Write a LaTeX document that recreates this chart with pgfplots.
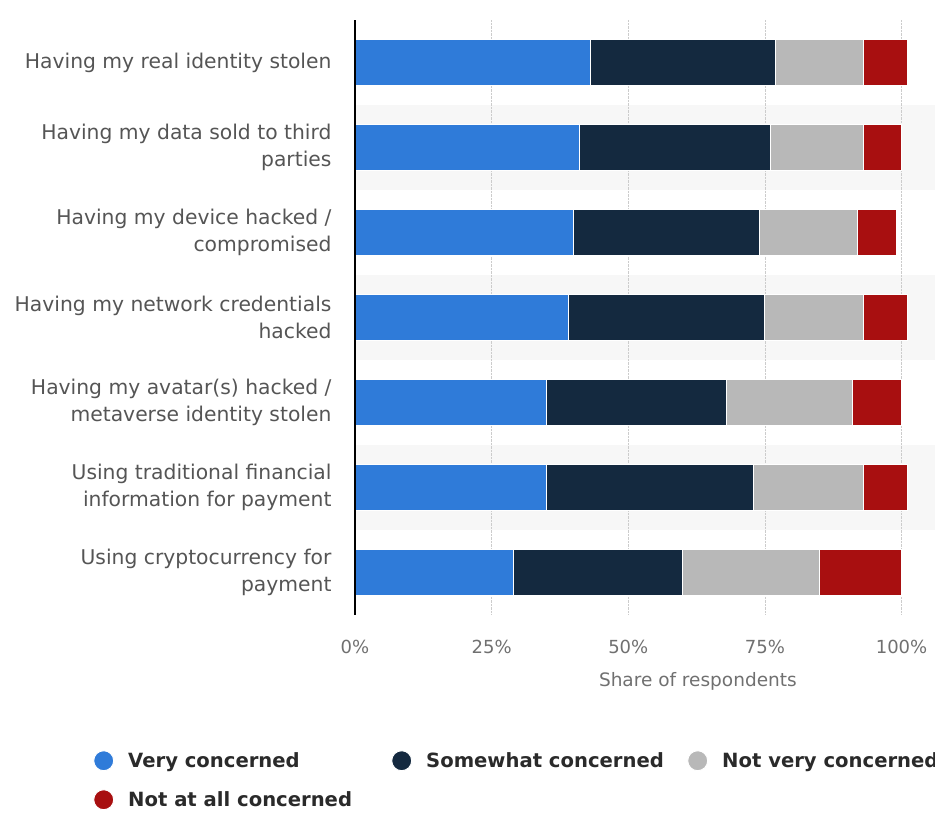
\documentclass[border=0pt]{standalone}
\usepackage{fontspec}
\setmainfont{DejaVu Sans}
\usepackage{pgfplots}
\pgfplotsset{compat=1.18}
\definecolor{cvery}{HTML}{2F7BD9}
\definecolor{csome}{HTML}{14293F}
\definecolor{cnot}{HTML}{B8B8B8}
\definecolor{cnone}{HTML}{A80F10}
\definecolor{lbl}{HTML}{555555}
\definecolor{tck}{HTML}{707070}
\definecolor{band}{HTML}{F7F7F7}
\definecolor{leg}{HTML}{2A2A2A}

\pgfplotstableread{
y very some notvery notall
0 43 34 16 8
1 41 35 17 7
2 40 34 18 7
3 39 36 18 8
4 35 33 23 9
5 35 38 20 8
6 29 31 25 15
}\datatable

\begin{document}
\begin{tikzpicture}
\useasboundingbox (0pt,0pt) rectangle (935pt,812pt);
\fill[band] (356pt,622pt) rectangle (935pt,707pt);
\fill[band] (356pt,452pt) rectangle (935pt,537pt);
\fill[band] (356pt,282pt) rectangle (935pt,367pt);
\begin{axis}[
  at={(355pt,197pt)}, anchor=south west,
  scale only axis, width=557.5pt, height=595pt,
  xbar stacked, bar width=46pt,
  xmin=0, xmax=102, ymin=-0.5, ymax=6.5, y dir=reverse,
  clip=false,
  axis x line=bottom, axis y line=left,
  x axis line style={draw=none},
  y axis line style={draw=none},
  major tick length=0pt,
  xtick={0,25,50,75,100},
  xticklabels={0\%,25\%,50\%,75\%,100\%},
  xticklabel style={font=\fontsize{18}{21}\selectfont, text=tck, anchor=center, yshift=-32pt},
  ytick={0,...,6},
  yticklabels={
    Having my real identity stolen,
    {Having my data sold to third\\parties},
    {Having my device hacked /\\compromised},
    {Having my network credentials\\hacked},
    {Having my avatar(s) hacked /\\metaverse identity stolen},
    {Using traditional financial\\information for payment},
    {Using cryptocurrency for\\payment}},
  yticklabel style={font=\fontsize{20.3}{27}\selectfont, text=lbl, align=right, anchor=east, xshift=-20pt},
  xmajorgrids,
  major grid style={densely dotted, color=gray!40, line width=0.8pt},
  xlabel={Share of respondents},
  xlabel style={font=\fontsize{18.5}{21}\selectfont, text=tck, at={(axis description cs:0.615,0)}, anchor=center, yshift=-66pt},
  legend style={at={(axis description cs:0,0)}, anchor=north west, xshift=-262pt, yshift=-135pt,
    draw=none, fill=none, font=\bfseries\fontsize{19.6}{22}\selectfont, text=leg, legend columns=3,
    row sep=18pt, column sep=0pt, inner sep=0pt},
  legend cell align=left,
  legend image code/.code={\fill[#1] (10pt,0pt) circle (10pt);},
]
\addplot[fill=cvery, draw=white, line width=1pt] table[x=very, y=y] {\datatable};
\addlegendentry{\makebox[273pt][l]{\hspace{12pt}Very concerned}}
\addplot[fill=csome, draw=white, line width=1pt] table[x=some, y=y] {\datatable};
\addlegendentry{\makebox[271pt][l]{\hspace{12pt}Somewhat concerned}}
\addplot[fill=cnot, draw=white, line width=1pt] table[x=notvery, y=y] {\datatable};
\addlegendentry{\hspace{12pt}Not very concerned}
\addplot[fill=cnone, draw=white, line width=1pt] table[x=notall, y=y] {\datatable};
\addlegendentry{\hspace{12pt}Not at all concerned}
\end{axis}
\draw[black, line width=1.4pt] (355pt,197pt) -- (355pt,792pt);
\end{tikzpicture}
\end{document}
